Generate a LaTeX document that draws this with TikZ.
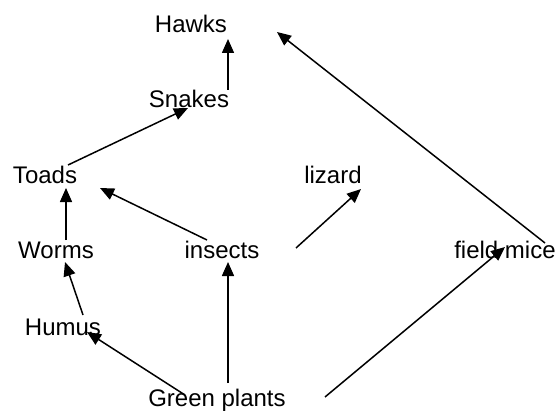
\documentclass[tikz,border=0pt]{standalone}
\usepackage{fontspec}
\setmainfont{Liberation Sans}
\usetikzlibrary{arrows.meta}

\begin{document}
\begin{tikzpicture}[x=1pt, y=-1pt,
        animal/.style={anchor=base, inner sep=0pt, font=\fontsize{24}{28}\selectfont},
        eats/.style={line width=1.5pt, -{Triangle[length=14pt, width=12pt]}}]
        \useasboundingbox (0,0) rectangle (559,414);

        \node[animal] (hawks) at (191,33) {Hawks};
        \node[animal] (snakes) at (189,108) {Snakes};
        \node[animal] (toads) at (45,183) {Toads};
        \node[animal] (lizard) at (333,183) {lizard};
        \node[animal] (worms) at (56,258) {Worms};
        \node[animal] (insects) at (222,258) {insects};
        \node[animal] (mice) at (505,258) {field mice};
        \node[animal] (humus) at (63,335) {Humus};
        \node[animal] (plants) at (217,406) {Green plants};

        \draw[eats] ([xshift=39pt, yshift=18pt]snakes.base) -- ([xshift=37pt, yshift=-6pt]hawks.base);
        \draw[eats] ([xshift=23pt, yshift=18pt]toads.base) -- ([xshift=-1pt]snakes.base);
        \draw[eats] ([xshift=10pt, yshift=18pt]worms.base) -- ([xshift=21pt, yshift=-5pt]toads.base);
        \draw[eats] ([xshift=-15pt, yshift=18pt]insects.base) -- ([xshift=55pt, yshift=-5pt]toads.base);
        \draw[eats] ([xshift=20pt, yshift=20pt]humus.base) -- ([xshift=9pt, yshift=-4pt]worms.base);
        \draw[eats] ([xshift=-32pt, yshift=11pt]plants.base) -- ([xshift=24pt, yshift=3pt]humus.base);
        \draw[eats] ([xshift=11pt, yshift=23pt]plants.base) -- ([xshift=6pt, yshift=-4pt]insects.base);
        \draw[eats] ([xshift=108pt, yshift=9pt]plants.base) -- ([yshift=11pt]mice.base);
        \draw[eats] ([xshift=40pt, yshift=15pt]mice.base) -- ([xshift=86pt, yshift=1pt]hawks.base);
        \draw[eats] ([xshift=74pt, yshift=10pt]insects.base) -- ([xshift=28pt, yshift=-6pt]lizard.base);
\end{tikzpicture}
\end{document}
